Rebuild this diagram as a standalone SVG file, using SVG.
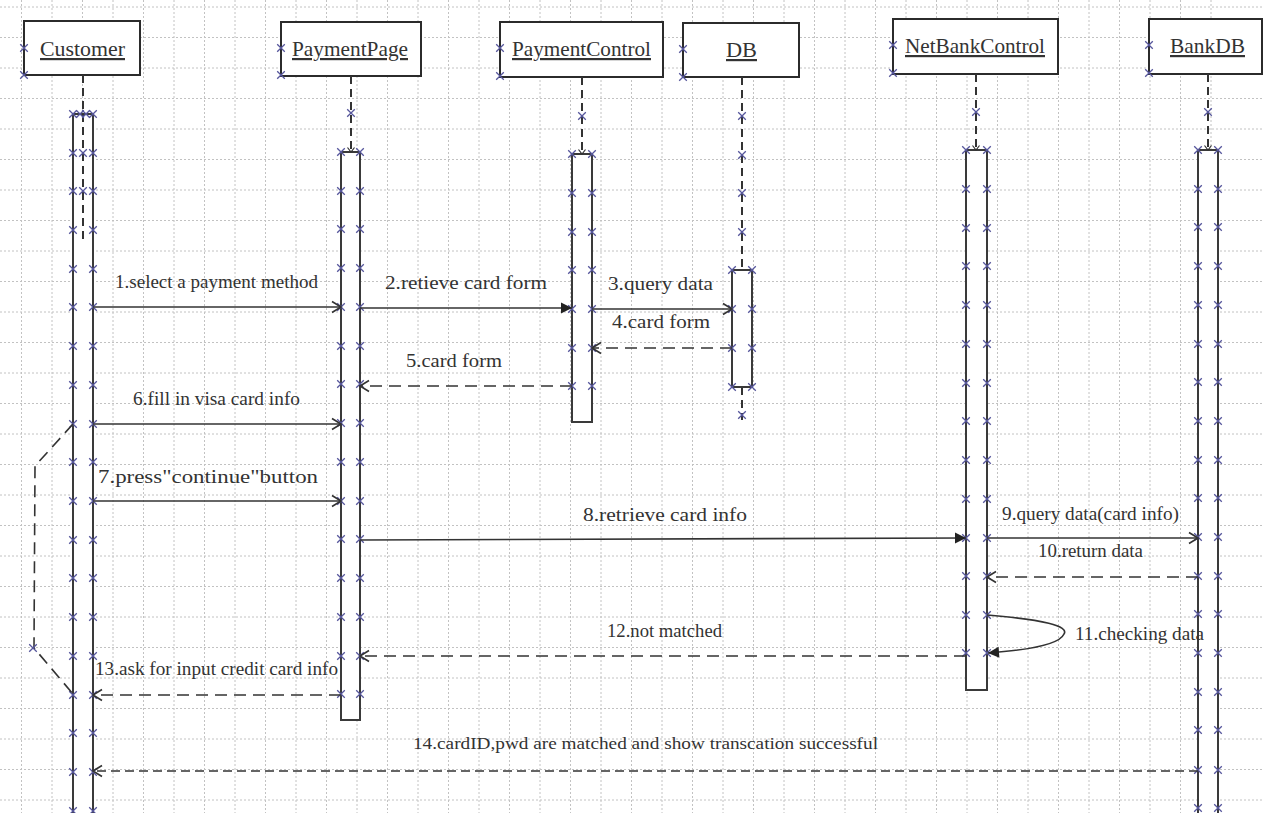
<svg xmlns="http://www.w3.org/2000/svg" width="1264" height="813" viewBox="0 0 1264 813">
  <style>
    .grid{fill:none;stroke:#c2c2c2;stroke-width:1;stroke-dasharray:2 2}
    .box{fill:#fff;stroke:#2b2b2b;stroke-width:2}
    .life{fill:none;stroke:#333;stroke-width:2;stroke-dasharray:8 5}
    .bar{fill:#fff;stroke:#3a3a3a;stroke-width:2}
    .ticks{fill:none;stroke:none;marker-start:url(#xk);marker-mid:url(#xk);marker-end:url(#xk)}
    .name{font-family:"Liberation Serif","Times New Roman",serif;font-size:22px;fill:#333;text-decoration:underline}
    .lbl{font-family:"Liberation Serif","Times New Roman",serif;font-size:19px;fill:#333}
    .msg{fill:none;stroke:#333;stroke-width:1.6}
    .ret{stroke-dasharray:12 7}
    .open{marker-end:url(#arrOpen)}
    .solid{marker-end:url(#arrSolid)}
  </style>
  <defs>
    <marker id="xk" markerUnits="userSpaceOnUse" viewBox="0 0 10 10" markerWidth="10" markerHeight="10" refX="5" refY="5" orient="0" overflow="visible">
      <path d="M1.2,1.2L8.8,8.8M8.8,1.2L1.2,8.8" fill="none" stroke="#56569c" stroke-width="1.3"/>
    </marker>
    <marker id="arrOpen" markerUnits="userSpaceOnUse" markerWidth="14" markerHeight="14" refX="12" refY="7" orient="auto" overflow="visible">
      <path d="M3,1.5L12,7L3,12.5" fill="none" stroke="#333" stroke-width="1.6"/>
    </marker>
    <marker id="arrSolid" markerUnits="userSpaceOnUse" markerWidth="14" markerHeight="14" refX="12" refY="7" orient="auto" overflow="visible">
      <path d="M1,1.5L12,7L1,12.5z" fill="#222"/>
    </marker>
  </defs>

  <!-- background grid -->
  <rect width="1264" height="813" fill="#fff"/>
  <path class="grid" d="M21.5,0v813m30.5,-813v813m30.5,-813v813m30.5,-813v813m30.5,-813v813m30.5,-813v813m30.5,-813v813m30.5,-813v813m30.5,-813v813m30.5,-813v813m30.5,-813v813m30.5,-813v813m30.5,-813v813m30.5,-813v813m30.5,-813v813m30.5,-813v813m30.5,-813v813m30.5,-813v813m30.5,-813v813m30.5,-813v813m30.5,-813v813m30.5,-813v813m30.5,-813v813m30.5,-813v813m30.5,-813v813m30.5,-813v813m30.5,-813v813m30.5,-813v813m30.5,-813v813m30.5,-813v813m30.5,-813v813m30.5,-813v813m30.5,-813v813m30.5,-813v813m30.5,-813v813m30.5,-813v813m30.5,-813v813m30.5,-813v813m30.5,-813v813m30.5,-813v813"/>
  <path class="grid" d="M0,7h1264m-1264,30.5h1264m-1264,30.5h1264m-1264,30.5h1264m-1264,30.5h1264m-1264,30.5h1264m-1264,30.5h1264m-1264,30.5h1264m-1264,30.5h1264m-1264,30.5h1264m-1264,30.5h1264m-1264,30.5h1264m-1264,30.5h1264m-1264,30.5h1264m-1264,30.5h1264m-1264,30.5h1264m-1264,30.5h1264m-1264,30.5h1264m-1264,30.5h1264m-1264,30.5h1264m-1264,30.5h1264m-1264,30.5h1264m-1264,30.5h1264m-1264,30.5h1264m-1264,30.5h1264m-1264,30.5h1264m-1264,30.5h1264"/>

  <!-- Customer -->
  <g id="customer">
    <rect class="box" x="24" y="21" width="116" height="54"/>
    <text class="name" x="40" y="56" textLength="85" lengthAdjust="spacingAndGlyphs">Customer</text>
    <path class="life" d="M83,75V114"/>
    <rect class="bar" x="73" y="114" width="20" height="720"/>
    <path class="life" d="M83,114V240"/>
    <path class="ticks" d="M24,48L24,75L73,114L80,114L86,114L93,114L83,153L83,191"/>
    <path class="ticks" d="M73,153V191V230V269V307V346V385V424V462V501V540V578V617V656V695V733V772V811"/>
    <path class="ticks" d="M93,153V191V230V269V307V346V385V424V462V501V540V578V617V656V695V733V772V811"/>
  </g>

  <!-- PaymentPage -->
  <g id="paymentPage">
    <rect class="box" x="281" y="22" width="140" height="54"/>
    <text class="name" x="292" y="56" textLength="116" lengthAdjust="spacingAndGlyphs">PaymentPage</text>
    <path class="life" d="M351,76V152"/>
    <rect class="bar" x="341" y="152" width="19" height="568"/>
    <path d="M347.5,147.5L351,152L354.5,147.5" fill="none" stroke="#333" stroke-width="1.2"/>
    <path class="ticks" d="M281,48L281,75L351,113"/>
    <path class="ticks" d="M341,152V191V229V268V307V346V384V423V462V501V539V578V617V656V694"/>
    <path class="ticks" d="M360,152V191V229V268V307V346V384V423V462V501V539V578V617V656V694"/>
  </g>

  <!-- PaymentControl -->
  <g id="paymentControl">
    <rect class="box" x="500" y="22" width="163" height="55"/>
    <text class="name" x="512" y="56" textLength="139" lengthAdjust="spacingAndGlyphs">PaymentControl</text>
    <path class="life" d="M582,77V154"/>
    <rect class="bar" x="572" y="154" width="20" height="268"/>
    <path d="M578.5,149.5L582,154L585.5,149.5" fill="none" stroke="#333" stroke-width="1.2"/>
    <path class="ticks" d="M500,48L500,76L582,116"/>
    <path class="ticks" d="M572,154V193V232V270V309V348V386"/>
    <path class="ticks" d="M592,154V193V232V270V309V348V386"/>
  </g>

  <!-- DB -->
  <g id="db">
    <rect class="box" x="683" y="23" width="116" height="54"/>
    <text class="name" x="726" y="57" textLength="31" lengthAdjust="spacingAndGlyphs">DB</text>
    <path class="life" d="M742,77V270M742,387V420"/>
    <rect class="bar" x="732" y="270" width="20" height="117"/>
    <path class="ticks" d="M683,49L683,77L742,116V155V193V232"/>
    <path class="ticks" d="M732,270V309V348V387"/>
    <path class="ticks" d="M752,270V309V348V387L742,415"/>
  </g>

  <!-- NetBankControl -->
  <g id="netBankControl">
    <rect class="box" x="893" y="19" width="165" height="55"/>
    <text class="name" x="905" y="53" textLength="140" lengthAdjust="spacingAndGlyphs">NetBankControl</text>
    <path class="life" d="M976,74V150"/>
    <rect class="bar" x="966" y="150" width="21" height="540"/>
    <path d="M972.5,145.5L976,150L979.5,145.5" fill="none" stroke="#333" stroke-width="1.2"/>
    <path class="ticks" d="M893,45L893,73L976,112"/>
    <path class="ticks" d="M966,150V189V228V266V305V344V383V421V460V499V538V576V615V653"/>
    <path class="ticks" d="M987,150V189V228V266V305V344V383V421V460V499V538V576V615V653"/>
  </g>

  <!-- BankDB -->
  <g id="bankDB">
    <rect class="box" x="1149" y="19" width="113" height="55"/>
    <text class="name" x="1170" y="53" textLength="75" lengthAdjust="spacingAndGlyphs">BankDB</text>
    <path class="life" d="M1208,74V150"/>
    <rect class="bar" x="1198" y="150" width="20" height="680"/>
    <path d="M1204.5,145.5L1208,150L1211.5,145.5" fill="none" stroke="#333" stroke-width="1.2"/>
    <path class="ticks" d="M1149,45L1149,73L1208,112"/>
    <path class="ticks" d="M1198,150V189V227V266V305V344V382V421V460V498V537V576V614V653V692V730V770V808"/>
    <path class="ticks" d="M1218,150V189V227V266V305V344V382V421V460V498V537V576V614V653V692V730V770V808"/>
  </g>

  <!-- messages -->
  <g id="connectors">
    <path class="msg open" d="M93,307H341"/>
    <path class="msg solid" d="M360,308H572"/>
    <path class="msg open" d="M592,309H732"/>
    <path class="msg ret open" d="M732,348H592"/>
    <path class="msg ret open" d="M572,386H360"/>
    <path class="msg open" d="M93,424H341"/>
    <path class="msg open" d="M93,501H341"/>
    <path class="msg solid" d="M360,540L966,538"/>
    <path class="msg open" d="M987,538H1198"/>
    <path class="msg ret open" d="M1198,577H987"/>
    <path class="msg solid" d="M987,615Q1072,622 1064,634Q1058,648 988,653"/>
    <path class="msg ret open" d="M966,656H360"/>
    <path class="msg ret open" d="M341,695H93"/>
    <path class="msg ret open" d="M1198,771H93" style="stroke-dasharray:9 5"/>
    <path class="msg ret" d="M73,424L35,466L34,648L73,694"/>
    <path class="ticks" d="M33,648"/>

    <text class="lbl" x="115" y="288" textLength="203" lengthAdjust="spacingAndGlyphs">1.select a payment method</text>
    <text class="lbl" x="385" y="289" textLength="162" lengthAdjust="spacingAndGlyphs">2.retieve card form</text>
    <text class="lbl" x="608" y="290" textLength="105" lengthAdjust="spacingAndGlyphs">3.query data</text>
    <text class="lbl" x="612" y="328" textLength="98" lengthAdjust="spacingAndGlyphs">4.card form</text>
    <text class="lbl" x="406" y="367" textLength="96" lengthAdjust="spacingAndGlyphs">5.card form</text>
    <text class="lbl" x="133" y="405" textLength="167" lengthAdjust="spacingAndGlyphs">6.fill in visa card info</text>
    <text class="lbl" x="98" y="483" textLength="220" lengthAdjust="spacingAndGlyphs">7.press"continue"button</text>
    <text class="lbl" x="583" y="521" textLength="164" lengthAdjust="spacingAndGlyphs">8.retrieve card info</text>
    <text class="lbl" x="1002" y="520" textLength="177" lengthAdjust="spacingAndGlyphs">9.query data(card info)</text>
    <text class="lbl" x="1038" y="557" textLength="105" lengthAdjust="spacingAndGlyphs">10.return data</text>
    <text class="lbl" x="1075" y="640" textLength="129" lengthAdjust="spacingAndGlyphs">11.checking data</text>
    <text class="lbl" x="607" y="637" textLength="115" lengthAdjust="spacingAndGlyphs">12.not matched</text>
    <text class="lbl" x="95" y="675" textLength="243" lengthAdjust="spacingAndGlyphs">13.ask for input credit card info</text>
    <text class="lbl" x="413" y="749" textLength="465" lengthAdjust="spacingAndGlyphs" style="font-size:16px">14.cardID,pwd are matched and show transcation successful</text>
  </g>
</svg>
